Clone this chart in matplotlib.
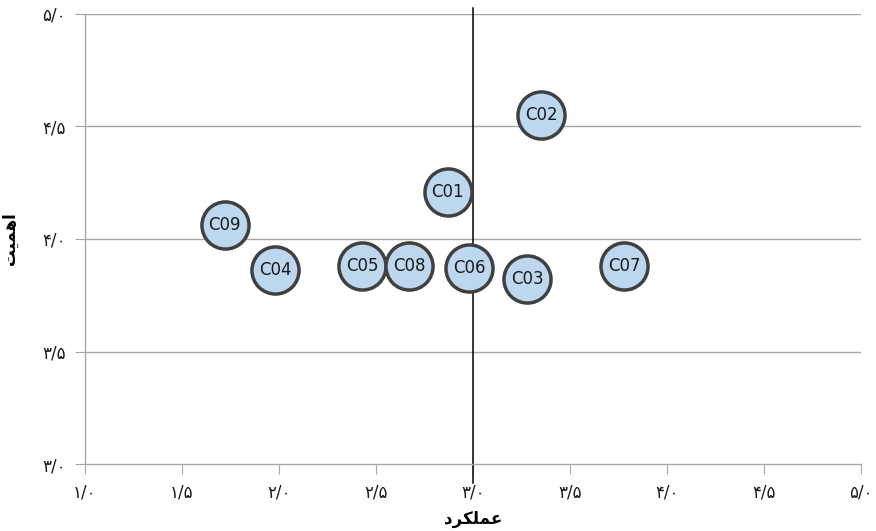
import matplotlib.pyplot as plt

# Criteria: performance (x) vs importance (y)
labels = ['C01', 'C02', 'C03', 'C04', 'C05', 'C06', 'C07', 'C08', 'C09']
performance = [2.87, 3.35, 3.28, 1.98, 2.43, 2.98, 3.78, 2.67, 1.72]
importance = [4.21, 4.55, 3.82, 3.86, 3.88, 3.87, 3.88, 3.88, 4.06]

x_ticks = [1.0, 1.5, 2.0, 2.5, 3.0, 3.5, 4.0, 4.5, 5.0]
y_ticks = [3.0, 3.5, 4.0, 4.5, 5.0]
split_x = 3.0

# Persian axis titles, pre-shaped (presentation forms in visual order)
x_title = '\uFEA9\uFEAE\uFB91\uFEE0\uFEE4\uFECB'   # عملکرد
y_title = '\uFE96\uFBFF\uFEE4\uFEEB\uFE8D'         # اهمیت

fa_digits = str.maketrans('0123456789', '۰۱۲۳۴۵۶۷۸۹')


def fa_label(v):
    return f'{v:.1f}'.replace('.', '/').translate(fa_digits)


fig = plt.figure(figsize=(8.76, 5.31), dpi=100)
ax = fig.add_axes([0.097, 0.126, 0.886, 0.848])

grid_c = '#a6a6a6'
for y in y_ticks[1:]:
    ax.axhline(y, color=grid_c, lw=1, zorder=1)

# split line at the mid performance score
ax.plot([split_x, split_x], [2.915, 5.027], color='black', lw=1.1,
        zorder=2, clip_on=False)

ax.scatter(performance, importance, s=1150, facecolor='#bdd7ee',
           edgecolor='#404040', linewidth=2.5, zorder=3)
for lab, x, y in zip(labels, performance, importance):
    ax.text(x, y, lab, ha='center', va='center', fontsize=12,
            color='#1a1a1a', zorder=4)

ax.set_xlim(1.0, 5.0)
ax.set_ylim(3.0, 5.0)
ax.set_xticks(x_ticks)
ax.set_yticks(y_ticks)
ax.set_xticklabels([fa_label(v) for v in x_ticks], fontsize=12)
ax.set_yticklabels([fa_label(v) for v in y_ticks], fontsize=12)
ax.tick_params(axis='both', direction='out', length=7, color=grid_c,
               labelcolor='#1a1a1a')
ax.tick_params(axis='x', pad=7)
ax.tick_params(axis='y', pad=7)

for side in ['top', 'right']:
    ax.spines[side].set_visible(False)
for side in ['left', 'bottom']:
    ax.spines[side].set_color(grid_c)
    ax.spines[side].set_linewidth(1)

ax.set_xlabel(x_title, fontsize=12, fontweight='bold')
ax.set_ylabel(y_title, fontsize=12, fontweight='bold')
ax.xaxis.set_label_coords(0.5, -0.103)
ax.yaxis.set_label_coords(-0.085, 0.5)

fig.savefig('out.png', dpi=100)
plt.close(fig)
